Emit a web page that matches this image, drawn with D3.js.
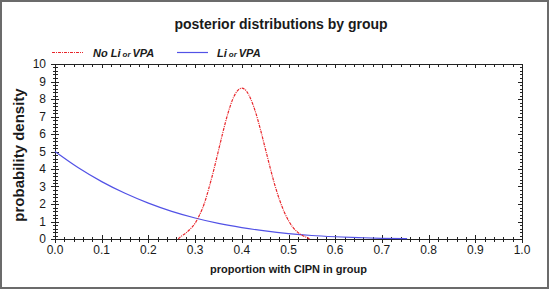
<!DOCTYPE html>
<html>
<head>
<meta charset="utf-8">
<script src="https://cdn.jsdelivr.net/npm/d3@7"></script>
<style>
  body { margin: 0; background: #fff; }
  text { font-family: Arial, "Liberation Sans", sans-serif; fill: #1a1a1a; }
</style>
</head>
<body>
<div id="viz"></div>
<script>
const width = 550;
const height = 292;
const margin = {top: 64, right: 28, bottom: 53, left: 55};

// group without Li/VPA (red, dash-dot)
const noLiX = [0.264, 0.27, 0.28, 0.29, 0.30, 0.31, 0.32, 0.33, 0.34, 0.35, 0.36, 0.37, 0.38, 0.39, 0.40,
               0.41, 0.42, 0.43, 0.44, 0.45, 0.46, 0.47, 0.48, 0.49, 0.50, 0.51, 0.52, 0.53, 0.54, 0.545];
const noLiY = [0.0, 0.15, 0.33, 0.58, 0.9, 1.4, 2.05, 2.95, 3.95, 5.05, 6.15, 7.15, 7.95, 8.45, 8.62,
               8.45, 7.95, 7.2, 6.25, 5.2, 4.15, 3.15, 2.3, 1.6, 1.05, 0.65, 0.38, 0.2, 0.08, 0.0];

// group with Li/VPA (blue, solid)
const liX = [0.0, 0.05, 0.1, 0.15, 0.2, 0.25, 0.3, 0.35, 0.4, 0.45, 0.5, 0.55, 0.6, 0.65, 0.7, 0.754];
const liY = [5.0, 4.07, 3.28, 2.61, 2.05, 1.58, 1.2, 0.89, 0.65, 0.46, 0.31, 0.2, 0.13, 0.08, 0.04, 0.02];

const xMajor = [0, 0.1, 0.2, 0.3, 0.4, 0.5, 0.6, 0.7, 0.8, 0.9, 1.0];
const yMajor = [0, 1, 2, 3, 4, 5, 6, 7, 8, 9, 10];

const legendItems = [
  { pre: 'No Li', post: 'VPA', color: '#e8262b', dash: '3,1,1,1' },
  { pre: 'Li', post: 'VPA', color: '#5252e6', dash: null }
];

var svg = d3.select("#viz")
  .append("svg")
  .attr("width", width)
  .attr("height", height);

// outer frame
svg.append("rect")
  .attr("x", 1).attr("y", 1)
  .attr("width", width - 3).attr("height", height - 5)
  .attr("fill", "#fff")
  .attr("stroke", "#6b6b6b")
  .attr("stroke-width", 2);

var xscale = d3.scaleLinear()
  .domain([0, 1])
  .range([margin.left, width - margin.right]);

var yscale = d3.scaleLinear()
  .domain([0, 10])
  .range([height - margin.bottom, margin.top]);

// minor ticks from the scales
var xMinor = xscale.ticks(50).filter(v => Math.abs(v * 10 - Math.round(v * 10)) > 1e-6);
var yMinor = yscale.ticks(50).filter(v => Math.abs(v - Math.round(v)) > 1e-6);

var x0 = xscale.range()[0], x1 = xscale.range()[1];
var y0 = yscale.range()[0], y1 = yscale.range()[1];

var ticks = svg.append("g")
  .attr("stroke", "#222")
  .attr("stroke-width", 1)
  .attr("shape-rendering", "crispEdges");

// bottom axis: ticks crossing the line
ticks.selectAll(".xb")
  .data(xMajor.map(v => ({v: v, s: 4})).concat(xMinor.map(v => ({v: v, s: 2.5}))))
  .join("line")
  .attr("x1", d => Math.round(xscale(d.v)) + 0.5)
  .attr("x2", d => Math.round(xscale(d.v)) + 0.5)
  .attr("y1", d => y0 - d.s)
  .attr("y2", d => y0 + d.s);

// top axis: inward ticks
ticks.selectAll(".xt")
  .data(xMajor.map(v => ({v: v, s: 4})).concat(xMinor.map(v => ({v: v, s: 2.5}))))
  .join("line")
  .attr("x1", d => Math.round(xscale(d.v)) + 0.5)
  .attr("x2", d => Math.round(xscale(d.v)) + 0.5)
  .attr("y1", y1)
  .attr("y2", d => y1 + d.s);

// left axis: ticks crossing the line
ticks.selectAll(".yl")
  .data(yMajor.map(v => ({v: v, s: 4})).concat(yMinor.map(v => ({v: v, s: 2.5}))))
  .join("line")
  .attr("y1", d => Math.round(yscale(d.v)) + 0.5)
  .attr("y2", d => Math.round(yscale(d.v)) + 0.5)
  .attr("x1", d => x0 - d.s)
  .attr("x2", d => x0 + d.s);

// right axis: inward ticks
ticks.selectAll(".yr")
  .data(yMajor.map(v => ({v: v, s: 4})).concat(yMinor.map(v => ({v: v, s: 2.5}))))
  .join("line")
  .attr("y1", d => Math.round(yscale(d.v)) + 0.5)
  .attr("y2", d => Math.round(yscale(d.v)) + 0.5)
  .attr("x1", x1)
  .attr("x2", d => x1 - d.s);

// plot border
svg.append("rect")
  .attr("x", x0 + 0.5)
  .attr("y", y1 + 0.5)
  .attr("width", x1 - x0)
  .attr("height", y0 - y1)
  .attr("fill", "none")
  .attr("stroke", "#222")
  .attr("stroke-width", 1)
  .attr("shape-rendering", "crispEdges");

// tick labels
svg.append("g")
  .selectAll("text")
  .data(xMajor)
  .join("text")
  .attr("x", d => xscale(d))
  .attr("y", y0 + 15)
  .attr("text-anchor", "middle")
  .style("font-size", "12px")
  .text(d => d3.format(".1f")(d));

svg.append("g")
  .selectAll("text")
  .data(yMajor)
  .join("text")
  .attr("x", x0 - 9)
  .attr("y", d => yscale(d) + 4.3)
  .attr("text-anchor", "end")
  .style("font-size", "12px")
  .text(d => d);

// curves
var line = d3.line()
  .x(d => xscale(d[0]))
  .y(d => yscale(d[1]))
  .curve(d3.curveMonotoneX);

svg.append("path")
  .datum(liX.map((v, i) => [v, liY[i]]))
  .attr("d", line)
  .attr("fill", "none")
  .attr("stroke", legendItems[1].color)
  .attr("stroke-width", 1.2);

svg.append("path")
  .datum(noLiX.map((v, i) => [v, noLiY[i]]))
  .attr("d", line)
  .attr("fill", "none")
  .attr("stroke", legendItems[0].color)
  .attr("stroke-width", 1.2)
  .attr("stroke-dasharray", legendItems[0].dash);

// title + axis labels
svg.append("text")
  .attr("x", 281)
  .attr("y", 29)
  .attr("text-anchor", "middle")
  .style("font-size", "14px")
  .style("font-weight", "bold")
  .text("posterior distributions by group");

svg.append("text")
  .attr("x", (x0 + x1) / 2)
  .attr("y", 273)
  .attr("text-anchor", "middle")
  .style("font-size", "11px")
  .style("font-weight", "bold")
  .text("proportion with CIPN in group");

svg.append("text")
  .attr("transform", "rotate(-90)")
  .attr("x", -155)
  .attr("y", 24)
  .attr("text-anchor", "middle")
  .style("font-size", "15px")
  .style("font-weight", "bold")
  .text("probability density");

// legend
var legX = [52, 177];
var leg = svg.append("g")
  .selectAll("g")
  .data(legendItems)
  .join("g")
  .attr("transform", (d, i) => "translate(" + legX[i] + ",52.5)");

leg.append("line")
  .attr("x1", 0).attr("x2", 31)
  .attr("y1", 0).attr("y2", 0)
  .attr("stroke", d => d.color)
  .attr("stroke-width", 1.2)
  .attr("stroke-dasharray", d => d.dash);

var legText = leg.append("text")
  .attr("x", (d, i) => i === 0 ? 41 : 40)
  .attr("y", 4)
  .style("font-size", "11px")
  .style("font-weight", "bold")
  .style("font-style", "italic");

legText.append("tspan").text(d => d.pre);
legText.append("tspan").attr("dx", 2).style("font-size", "8px").text("or");
legText.append("tspan").attr("dx", 2).text(d => d.post);
</script>
</body>
</html>
